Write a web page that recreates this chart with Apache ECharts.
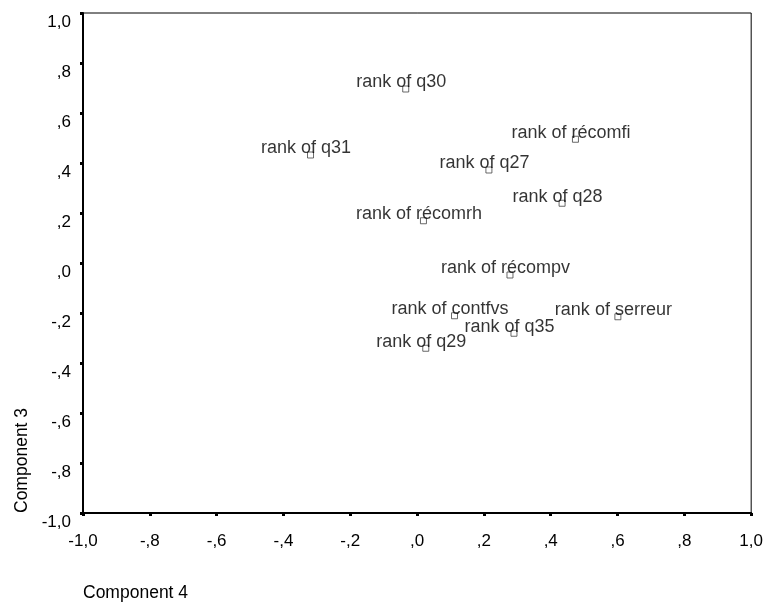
<!DOCTYPE html>
<html>
<head>
<meta charset="utf-8">
<script src="https://cdn.jsdelivr.net/npm/echarts@6/dist/echarts.min.js"></script>
<style>
  html, body { margin: 0; padding: 0; background: #fff; }
  #chart { width: 766px; height: 602px; }
</style>
</head>
<body>
<div id="chart"></div>
<script>
// Component loadings (rotated space), one entry per ranked variable
const variables = [
  'rank of q30', 'rank of q31', 'rank of récomfi', 'rank of q27',
  'rank of q28', 'rank of récomrh', 'rank of récompv', 'rank of contfvs',
  'rank of serreur', 'rank of q35', 'rank of q29'
];
const component4 = [-0.034, -0.319, 0.474, 0.215, 0.434, 0.019, 0.278, 0.112, 0.601, 0.290, 0.026];
const component3 = [0.696, 0.432, 0.495, 0.372, 0.239, 0.169, -0.048, -0.211, -0.215, -0.281, -0.341];

const xAxisTitle = 'Component 4';
const yAxisTitle = 'Component 3';

const FONT = '"Liberation Sans", Arial, sans-serif';

// SPSS-style tick text: comma decimal, no leading zero
function tickText(v) {
  if (Math.abs(v) < 1e-9) return ',0';
  let s = v.toFixed(1).replace('.', ',');
  s = s.replace(/^(-?)0,/, '$1,');
  return s;
}

const points = variables.map((name, i) => ({ name, value: [component4[i], component3[i]] }));

const chart = echarts.init(document.getElementById('chart'));
chart.setOption({
  backgroundColor: '#fff',
  animation: false,
  grid: {
    left: 83, right: 13, top: 13, bottom: 89,
    show: true, borderColor: '#000', borderWidth: 1, backgroundColor: 'transparent'
  },
  xAxis: {
    type: 'value', min: -1, max: 1, interval: 0.2,
    axisLine: { show: true, onZero: false, lineStyle: { color: '#000', width: 2 } },
    axisTick: { show: true, length: 3, lineStyle: { color: '#000', width: 3 } },
    splitLine: { show: false },
    axisLabel: {
      margin: 20, color: '#000', fontSize: 17, fontFamily: FONT,
      formatter: tickText
    }
  },
  yAxis: {
    type: 'value', min: -1, max: 1, interval: 0.2,
    axisLine: { show: true, onZero: false, lineStyle: { color: '#000', width: 2 } },
    axisTick: { show: true, length: 3, lineStyle: { color: '#000', width: 3 } },
    splitLine: { show: false },
    axisLabel: {
      margin: 12, color: '#000', fontSize: 17, fontFamily: FONT,
      verticalAlign: 'top', lineHeight: 19,
      formatter: tickText
    }
  },
  graphic: [
    {
      type: 'text', left: 83, top: 584,
      style: { text: xAxisTitle, fill: '#000', font: '17.5px ' + FONT }
    },
    {
      type: 'text', x: 13, y: 513, rotation: Math.PI / 2,
      style: { text: yAxisTitle, fill: '#000', font: '17.5px ' + FONT, textAlign: 'left', textVerticalAlign: 'top' }
    }
  ],
  series: [{
    type: 'scatter',
    data: points,
    symbol: 'rect',
    symbolSize: 6,
    itemStyle: { color: '#fff', borderColor: '#444', borderWidth: 1 },
    label: {
      show: true,
      // anchored just above the marker, slightly left of its centre
      position: [-1, 6],
      align: 'center',
      verticalAlign: 'bottom',
      formatter: p => p.name,
      color: '#000',
      fontSize: 18,
      fontFamily: FONT
    }
  }]
});
</script>
</body>
</html>
